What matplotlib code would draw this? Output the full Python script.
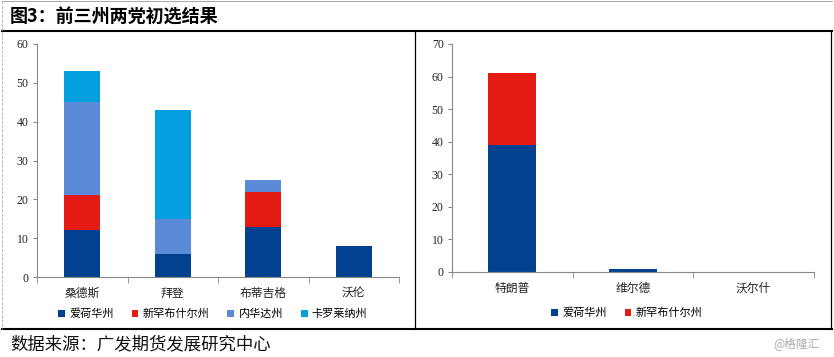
import matplotlib
matplotlib.use("Agg")
import matplotlib.pyplot as plt
from matplotlib.lines import Line2D
import numpy as np

plt.rcParams['font.family'] = ['Noto Sans CJK SC', 'DejaVu Sans']

# ---- data ----
dem_candidates = ["桑德斯", "拜登", "布蒂吉格", "沃伦"]
dem_series = ["爱荷华州", "新罕布什尔州", "内华达州", "卡罗莱纳州"]
dem_iowa = [12, 6, 13, 8]
dem_nh = [9, 0, 9, 0]
dem_nv = [24, 9, 3, 0]
dem_sc = [8, 28, 0, 0]
dem_yticks = [0, 10, 20, 30, 40, 50, 60]

rep_candidates = ["特朗普", "维尔德", "沃尔什"]
rep_series = ["爱荷华州", "新罕布什尔州"]
rep_iowa = [39, 1, 0]
rep_nh = [22, 0, 0]
rep_yticks = [0, 10, 20, 30, 40, 50, 60, 70]

title = "图3：前三州两党初选结果"
source = "数据来源：广发期货发展研究中心"
watermark = "@格隆汇"

colors = ["#02418F", "#E41B13", "#5A8AD8", "#039FDF"]

W, H = 834, 357
fig = plt.figure(figsize=(W / 100, H / 100), dpi=100)

def fx(px):
    return px / W

def fy(py):
    return 1 - py / H

serif = ['Liberation Serif', 'DejaVu Serif']

def style_axes(ax, cats, yticks):
    n = len(cats)
    ax.set_xlim(-0.5, n - 0.5)
    ax.set_ylim(yticks[0], yticks[-1])
    ax.set_yticks(yticks)
    ax.set_yticklabels([str(t) for t in yticks], fontfamily=serif, fontsize=8.5)
    ax.set_xticks(range(n))
    ax.set_xticklabels(cats, fontsize=8.5)
    ax.set_xticks(np.arange(-0.5, n, 1.0), minor=True)
    ax.tick_params(axis='x', which='major', length=0, pad=7, colors='#222222')
    ax.tick_params(axis='x', which='minor', length=4, color='#888888', direction='out')
    ax.tick_params(axis='y', which='major', length=3, color='#888888', pad=3, labelcolor='#222222')
    for s in ['top', 'right']:
        ax.spines[s].set_visible(False)
    for s in ['left', 'bottom']:
        ax.spines[s].set_color('#888888')
        ax.spines[s].set_linewidth(0.8)

# ---- left chart ----
ax1 = fig.add_axes([fx(37), fy(277), fx(399 - 37), fy(44) - fy(277)])
x = np.arange(len(dem_candidates))
bottom = np.zeros(len(dem_candidates))
handles = []
for vals, name, c in zip([dem_iowa, dem_nh, dem_nv, dem_sc], dem_series, colors):
    b = ax1.bar(x, vals, 0.4, bottom=bottom, color=c, label=name, edgecolor='none')
    bottom += np.array(vals)
    handles.append(b)
style_axes(ax1, dem_candidates, dem_yticks)
fig.legend(handles=handles, loc='center', bbox_to_anchor=(fx(213), fy(314)), ncol=4,
           frameon=False, fontsize=8, handlelength=0.6, handleheight=0.6,
           handletextpad=0.4, columnspacing=1.6, borderpad=0)

# ---- right chart ----
ax2 = fig.add_axes([fx(452), fy(272), fx(814 - 452), fy(44) - fy(272)])
x2 = np.arange(len(rep_candidates))
bottom2 = np.zeros(len(rep_candidates))
handles2 = []
for vals, name, c in zip([rep_iowa, rep_nh], rep_series, colors[:2]):
    b = ax2.bar(x2, vals, 0.4, bottom=bottom2, color=c, label=name, edgecolor='none')
    bottom2 += np.array(vals)
    handles2.append(b)
style_axes(ax2, rep_candidates, rep_yticks)
fig.legend(handles=handles2, loc='center', bbox_to_anchor=(fx(627), fy(313)), ncol=2,
           frameon=False, fontsize=8, handlelength=0.6, handleheight=0.6,
           handletextpad=0.4, columnspacing=1.6, borderpad=0)

# ---- frame lines ----
def hline(py, lw, color='black'):
    fig.add_artist(Line2D([fx(2), fx(832)], [fy(py), fy(py)], lw=lw, color=color))

def vline(px, py0, py1, lw, color='black', ls='-'):
    fig.add_artist(Line2D([fx(px), fx(px)], [fy(py0), fy(py1)], lw=lw, color=color, ls=ls))

hline(1, 0.6, '#999999')
hline(31, 1.5)
hline(329, 1.5)
vline(2, 1, 329, 0.6, '#aaaaaa', '--')
vline(415, 31, 329, 0.9)
vline(831, 31, 329, 0.9)

fig.text(fx(10), fy(17), title, fontsize=13, fontweight='bold', va='center', ha='left')
fig.text(fx(10), fy(344), source, fontsize=12.5, va='center', ha='left', color='#111111')
fig.text(fx(820), fy(344), watermark, fontsize=8.5, va='center', ha='right', color='#aaaaaa')

fig.savefig("out.png", dpi=100)
